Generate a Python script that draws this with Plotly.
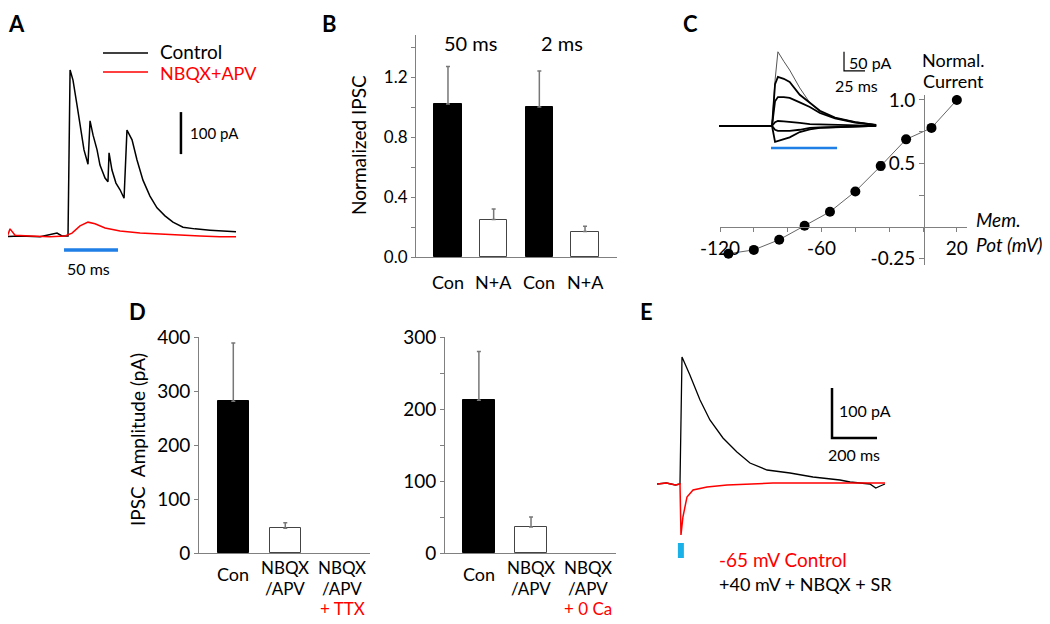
import plotly.graph_objects as go

# the page body adds an 8 px margin; the figure is sized and placed to compensate
OX, OY = 8, 8
W, H = 1050 - OX, 624 - OY
FONT = "Lato"

# ---------------- Panel A: Control vs NBQX+APV traces (ms from light onset, pA)
a_ctrl_t = [-59.3, -40.7, -22.2, -6.5, -1.9, 3.7, 5.6, 8.3, 12.0, 14.8, 18.5, 22.2, 24.1, 26.9, 30.6,
            33.3, 38.0, 40.7, 41.7, 44.4, 48.1, 51.9, 55.6, 58.3, 63.0, 67.6, 73.1, 79.6, 86.1, 93.5,
            100.9, 110.2, 121.3, 135.2, 149.1, 159.3]
a_ctrl_i = [-2, 0, -2, 7, 0, 0, 395, 371, 312, 264, 205, 171, 274, 240, 205,
            169, 138, 129, 198, 157, 126, 110, 90, 252, 229, 181, 133, 95, 67, 48,
            33, 21, 17, 14, 12, 10]
a_nbqx_t = [-59.3, -52.8, -50.0, -45.4, -31.5, -13.0, 0.9, 7.4, 14.8, 22.2, 28.7, 38.0, 51.9,
            70.4, 88.9, 107.4, 125.9, 144.4, 159.3]
a_nbqx_i = [0, -2, 17, 2, 0, -2, 0, 7, 24, 33, 29, 19, 12, 7, 5, 2, 0, -2, -2]
a_light_t = [0, 50]
a_light_i = [-33, -33]
a_scale_t = [108.3, 108.3]
a_scale_i = [195, 295]

# ---------------- Panel B: normalized IPSC
b_x = [0, 1, 2, 3]
b_cats = ["Con", "N+A", "Con", "N+A"]
b_vals = [1.02, 0.25, 1.00, 0.17]
b_err = [0.25, 0.07, 0.24, 0.035]
b_groups = ["50 ms", "2 ms"]
b_group_x = [0.5, 2.5]

# ---------------- Panel C: I-V relation and inset traces
c_vm = [-115, -100, -85, -70, -55, -40, -25, -10, 5, 20]
c_cur = [-0.21, -0.18, -0.10, 0.01, 0.12, 0.28, 0.48, 0.69, 0.78, 1.0]
c_err = [0.01, 0.01, 0.01, 0.025, 0.01, 0.01, 0.03, 0.01, 0.02, 0.005]
c_in_t = [-63, -30, 0, 3.6, 7, 14, 21, 33, 45, 57, 75, 99, 124]
c_in_traces = [
    [0, 0, 0, 120, 195, 170, 147, 100, 61, 37, 21, 11, 3],
    [0, 0, 0, 110, 129, 124, 116, 82, 60, 40, 22, 10, 3],
    [0, 0, 0, 65, 76, 76, 74, 62, 50, 34, 20, 9, 2],
    [0, 0, 0, 10, 13, 12, 11, 8, 5, 4, 3, 1, 0],
    [0, 0, 0, -10, -13, -13, -13, -10, -5, -4, -3, -2, 0],
    [0, 0, 0, -42, -40, -36, -30, -16, -9, -5, -3, -2, 0],
]
c_light_t = [-1.2, 77.4]
c_light_i = [-58, -58]
c_scale_t = [85.7, 85.7, 110.7]
c_scale_i = [195, 145, 145]

# ---------------- Panel D: IPSC amplitudes
d_x = [0, 1, 2]
d_label_x = [0, 1, 2.1]
d_left_vals = [281, 46, None]
d_left_err = [108, 10, 0]
d_right_vals = [212, 36, None]
d_right_err = [68, 14, 0]
d_left_third = "+ TTX"
d_right_third = "+ 0 Ca"

# ---------------- Panel E: -65 mV control vs +40 mV + NBQX + SR
e_pos_t = [-102, -60, -20, 0, 8.9, 44, 89, 133, 191, 253, 311, 387, 489, 591, 711, 756, 844, 870, 890, 911]
e_pos_i = [0, 2, -2, 0, 254, 218, 168, 128, 92, 64, 42, 28, 22, 14, 8, 4, 0, -8, -4, 0]
e_neg_t = [-102, -60, -20, 0, 4.4, 13, 31, 58, 120, 209, 413, 711, 911]
e_neg_i = [0, 2, -2, 0, -102, -66, -26, -12, -6, -2, 2, 2, 2]
e_light_t = [4, 4]
e_light_i = [-118, -148]
e_scale_t = [675.6, 675.6, 875.6]
e_scale_i = [192, 92, 92]


def PX(x):
    return (x - OX) / W


def PY(y):
    return 1 - (y - OY) / H


def dx(a, b):
    return [PX(a), PX(b)]


def dy(top, bottom):
    return [PY(bottom), PY(top)]


fig = go.Figure()

# ---- A
fig.add_trace(go.Scatter(x=a_ctrl_t, y=a_ctrl_i, mode="lines", line=dict(color="black", width=1.5),
                         xaxis="x", yaxis="y", showlegend=False))
fig.add_trace(go.Scatter(x=a_nbqx_t, y=a_nbqx_i, mode="lines", line=dict(color="#ff0000", width=1.5),
                         xaxis="x", yaxis="y", showlegend=False))
fig.add_trace(go.Scatter(x=a_light_t, y=a_light_i, mode="lines", line=dict(color="#1f7fe6", width=3.5),
                         xaxis="x", yaxis="y", showlegend=False))
fig.add_trace(go.Scatter(x=a_scale_t, y=a_scale_i, mode="lines", line=dict(color="black", width=2.5),
                         xaxis="x", yaxis="y", showlegend=False))

# ---- B
fig.add_trace(go.Bar(x=b_x, y=b_vals, width=0.6,
                     marker=dict(color=["black", "white", "black", "white"],
                                 line=dict(color=["black", "#444", "black", "#444"], width=1)),
                     error_y=dict(type="data", array=b_err, arrayminus=[0] * 4, symmetric=False,
                                  color="#777", thickness=1.5, width=2),
                     xaxis="x2", yaxis="y2", showlegend=False))

# ---- C inset
for k, tr in enumerate(c_in_traces):
    fig.add_trace(go.Scatter(x=c_in_t, y=tr, mode="lines",
                             line=dict(color="#555" if k == 0 else "black", width=1 if k == 0 else 1.8),
                             xaxis="x4", yaxis="y4", showlegend=False))
fig.add_trace(go.Scatter(x=c_light_t, y=c_light_i, mode="lines", line=dict(color="#1f7fe6", width=2.5),
                         xaxis="x4", yaxis="y4", showlegend=False))
fig.add_trace(go.Scatter(x=c_scale_t, y=c_scale_i, mode="lines", line=dict(color="black", width=1.2),
                         xaxis="x4", yaxis="y4", showlegend=False))

# ---- C main
fig.add_trace(go.Scatter(x=c_vm, y=c_cur, mode="lines+markers",
                         line=dict(color="#666", width=1),
                         marker=dict(color="black", size=10),
                         error_y=dict(type="data", array=c_err, color="black", thickness=1.2, width=3),
                         xaxis="x3", yaxis="y3", showlegend=False))

# ---- D
for vals, errs, xa, ya in [(d_left_vals, d_left_err, "x5", "y5"), (d_right_vals, d_right_err, "x6", "y6")]:
    fig.add_trace(go.Bar(x=d_x, y=vals, width=0.6,
                         marker=dict(color=["black", "white", "white"],
                                     line=dict(color=["black", "#444", "#444"], width=1)),
                         error_y=dict(type="data", array=errs, arrayminus=[0] * 3, symmetric=False,
                                      color="#777", thickness=1.5, width=2),
                         xaxis=xa, yaxis=ya, showlegend=False))

# ---- E
fig.add_trace(go.Scatter(x=e_pos_t, y=e_pos_i, mode="lines", line=dict(color="black", width=1.3),
                         xaxis="x7", yaxis="y7", showlegend=False))
fig.add_trace(go.Scatter(x=e_neg_t, y=e_neg_i, mode="lines", line=dict(color="#ff0000", width=1.5),
                         xaxis="x7", yaxis="y7", showlegend=False))
fig.add_trace(go.Scatter(x=e_light_t, y=e_light_i, mode="lines", line=dict(color="#1ab0e8", width=6),
                         xaxis="x7", yaxis="y7", showlegend=False))
fig.add_trace(go.Scatter(x=e_scale_t, y=e_scale_i, mode="lines", line=dict(color="black", width=2.5),
                         xaxis="x7", yaxis="y7", showlegend=False))

hidden = dict(visible=False, showgrid=False, zeroline=False)
AX = "#808080"
tick_b = dict(family=FONT, size=17, color="black")
tick_c = dict(family=FONT, size=19, color="black")
tick_d = dict(family=FONT, size=19, color="black")

layout = dict(
    width=W, height=H, margin=dict(l=0, r=0, t=0, b=0, pad=0, autoexpand=False),
    paper_bgcolor="white", plot_bgcolor="rgba(0,0,0,0)",
    font=dict(family=FONT, size=18, color="black"),
    showlegend=False,
    bargap=0,
    # A (left edge of picture starts at page x=8)
    xaxis=dict(domain=dx(8, 240), range=[-51.9, 163], **hidden),
    yaxis=dict(domain=dy(60, 260), range=[-57.1, 419], **hidden),
    # B
    xaxis2=dict(domain=dx(416, 617), range=[-0.70, 3.70], anchor="y2", showline=True, linecolor=AX,
                linewidth=1, showticklabels=False, ticks="", showgrid=False, zeroline=False),
    yaxis2=dict(domain=dy(35, 257), range=[0, 1.48], anchor="x2", showline=True, linecolor=AX,
                linewidth=1, ticks="outside", ticklen=4, tickcolor=AX,
                tickvals=[0, 0.2, 0.4, 0.6, 0.8, 1.0, 1.2, 1.4],
                ticktext=["0.0", "", "0.4", "", "0.8", "", "1.2", ""],
                tickfont=tick_b, showgrid=False, zeroline=False),
    # C main (axes crossing at zero)
    xaxis3=dict(domain=dx(720, 967), range=[-120, 26], anchor="free", position=PY(227),
                showline=True, linecolor=AX, linewidth=1, ticks="outside", ticklen=4, tickcolor=AX,
                tickvals=[-120, -100, -80, -60, -40, -20, 0, 20],
                ticktext=["-120", "", "", "-60", "", "", "", "20"],
                tickfont=tick_c, showgrid=False, zeroline=False),
    yaxis3=dict(domain=dy(95, 265), range=[-0.299, 1.039], anchor="free", position=PX(924),
                showline=True, linecolor=AX, linewidth=1, ticks="outside", ticklen=5, tickcolor=AX,
                tickvals=[-0.25, 0, 0.25, 0.5, 0.75, 1.0],
                ticktext=["-0.25", "", "", "0.5", "", "1.0"],
                tickfont=tick_c, showgrid=False, zeroline=False),
    # C inset
    xaxis4=dict(domain=dx(715, 885), range=[-67.9, 134.5], **hidden),
    yaxis4=dict(domain=dy(40, 160), range=[-89.5, 226], **hidden),
    # D left
    xaxis5=dict(domain=dx(199, 370), range=[-0.66, 2.63], anchor="y5", showline=True, linecolor=AX,
                linewidth=1, showticklabels=False, ticks="", showgrid=False, zeroline=False),
    yaxis5=dict(domain=dy(337, 553), range=[0, 400], anchor="x5", showline=True, linecolor=AX,
                linewidth=1, ticks="outside", ticklen=4, tickcolor=AX,
                tickvals=[0, 100, 200, 300, 400], tickfont=tick_d, showgrid=False, zeroline=False),
    # D right
    xaxis6=dict(domain=dx(445, 616), range=[-0.65, 2.63], anchor="y6", showline=True, linecolor=AX,
                linewidth=1, showticklabels=False, ticks="", showgrid=False, zeroline=False),
    yaxis6=dict(domain=dy(337, 553), range=[0, 300], anchor="x6", showline=True, linecolor=AX,
                linewidth=1, ticks="outside", ticklen=4, tickcolor=AX,
                tickvals=[0, 50, 100, 150, 200, 250, 300],
                ticktext=["0", "", "100", "", "200", "", "300"],
                tickfont=tick_d, showgrid=False, zeroline=False),
    # E
    xaxis7=dict(domain=dx(650, 890), range=[-133.3, 933.3], **hidden),
    yaxis7=dict(domain=dy(340, 570), range=[-172, 288], **hidden),
)
fig.update_layout(**layout)

ann = []


def txt(x, y, s, size=18, color="black", xanchor="center", yanchor="middle", bold=False, italic=False,
        angle=0, xref="paper", yref="paper"):
    if bold:
        s = "<b>" + s + "</b>"
    if italic:
        s = "<i>" + s + "</i>"
    ann.append(dict(x=PX(x) if xref == "paper" else x, y=PY(y) if yref == "paper" else y,
                    xref=xref, yref=yref, text=s, showarrow=False, xanchor=xanchor, yanchor=yanchor,
                    textangle=angle, font=dict(family=FONT, size=size, color=color)))


# panel letters
for letter, lx in [("A", 16), ("B", 329), ("C", 690)]:
    txt(lx, OY, letter, size=22, bold=True, yanchor="top")
for letter, lx, ly in [("D", 137, 312), ("E", 646, 312)]:
    txt(lx, ly, letter, size=22, bold=True)

# A texts
txt(158, 52, "Control", size=19, xanchor="left")
txt(158, 73, "NBQX+APV", size=18, color="#ff0000", xanchor="left")
txt(188, 133, "100 pA", size=15, xanchor="left")
txt(88, 268, "50 ms", size=16)

# B texts
for gx, g in zip(b_group_x, b_groups):
    txt(gx, 43, g, size=20, xref="x2")
for bx, c in zip(b_x, b_cats):
    txt(bx, 282, c, size=18, xref="x2")
txt(358, 145, "Normalized IPSC", size=19, angle=-90)

# C texts
txt(953, 60, "Normal.", size=18)
txt(953, 81, "Current", size=18)
txt(974, 220, "Mem.", size=19, xanchor="left", italic=True)
txt(974, 245, "Pot (mV)", size=19, xanchor="left", italic=True)
txt(847, 62, "50 pA", size=16, xanchor="left")
txt(856, 85, "25 ms", size=16)

# D texts
txt(137, 440, "IPSC  Amplitude (pA)", size=19, angle=-90)
for xa, third in [("x5", d_left_third), ("x6", d_right_third)]:
    txt(d_label_x[0], 574, "Con", size=18, xref=xa)
    for i in (1, 2):
        txt(d_label_x[i], 567, "NBQX", size=17, xref=xa)
        txt(d_label_x[i], 588, "/APV", size=17, xref=xa)
    txt(d_label_x[2], 608, third, size=17, color="#ff0000", xref=xa)

# E texts
txt(837, 410, "100 pA", size=16, xanchor="left")
txt(826, 454, "200 ms", size=16, xanchor="left")
txt(717, 559, "-65 mV Control", size=19, color="#ff0000", xanchor="left")
txt(717, 584, "+40 mV + NBQX + SR", size=18, xanchor="left")

shapes = [
    dict(type="line", xref="paper", yref="paper", x0=PX(103), x1=PX(148), y0=PY(53), y1=PY(53),
         line=dict(color="black", width=1.5)),
    dict(type="line", xref="paper", yref="paper", x0=PX(103), x1=PX(148), y0=PY(72), y1=PY(72),
         line=dict(color="#ff0000", width=1.5)),
]
fig.update_layout(annotations=ann, shapes=shapes)

fig.write_html("out.html")
